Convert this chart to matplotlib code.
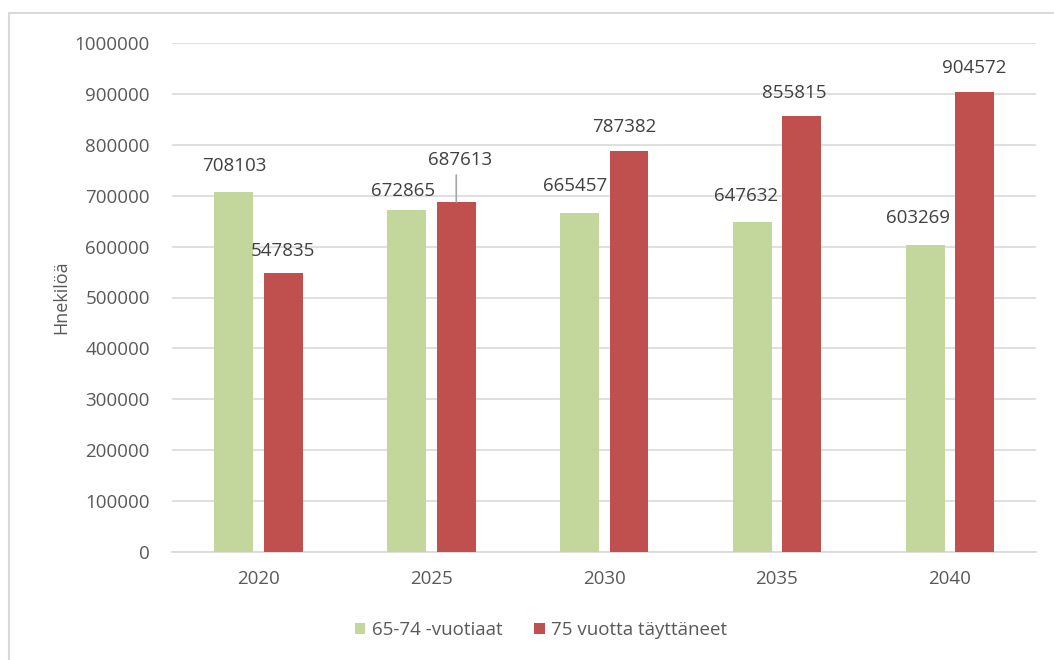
import matplotlib
matplotlib.use("Agg")
import matplotlib.pyplot as plt
import numpy as np
from matplotlib.patches import Rectangle

years = ["2020", "2025", "2030", "2035", "2040"]
age_65_74 = [708103, 672865, 665457, 647632, 603269]
age_75_plus = [547835, 687613, 787382, 855815, 904572]
series_names = ["65-74 -vuotiaat", "75 vuotta täyttäneet"]
y_label = "Hnekilöä"
y_ticks = list(range(0, 1000001, 100000))

# label offsets in pixels (dx, dy of label centre above bar top)
off_green = [(0, 25.5), (-3.5, 18.5), (-4.5, 27), (-6.5, 26), (-7, 27)]
off_red = [(-1, 22.5), (4, 42), (-5, 24), (-8, 23), (0, 23.6)]

plt.rcParams['font.family'] = ['Open Sans', 'DejaVu Sans']
txt = "#595959"
lbl = "#404040"
grid = "#d9d9d9"
green = "#c3d69b"
red = "#c0504d"

dpi = 100
fig = plt.figure(figsize=(10.54, 6.6), dpi=dpi)
W, H = 1054, 660
ax = fig.add_axes([172 / W, 1 - 552 / H, (1036 - 172) / W, (552 - 43) / H])

x = np.arange(len(years))
bw = 0.225
b1 = ax.bar(x - 0.142, age_65_74, bw, color=green, label=series_names[0], zorder=3)
b2 = ax.bar(x + 0.145, age_75_plus, bw, color=red, label=series_names[1], zorder=3)

ax.set_xlim(-0.5, len(years) - 0.5)
ax.set_ylim(0, 1000000)
ax.set_yticks(y_ticks)
ax.set_yticklabels([str(v) for v in y_ticks])
ax.set_xticks(x)
ax.set_xticklabels(years)
ax.yaxis.grid(True, color=grid, linewidth=1.2, zorder=0)
ax.set_axisbelow(True)
for s in ["top", "right", "left"]:
    ax.spines[s].set_visible(False)
ax.spines["bottom"].set_color(grid)
ax.spines["bottom"].set_linewidth(1.2)
ax.tick_params(axis="both", length=0, labelsize=13.5, colors=txt)
ax.tick_params(axis="y", pad=16)
ax.tick_params(axis="x", pad=13)
ax.set_ylabel(y_label, fontsize=13, color=txt)
ax.yaxis.set_label_coords(-(172 - 70) / (1036 - 172), 0.5)

px = 72 / dpi
for bars, vals, offs in ((b1, age_65_74, off_green), (b2, age_75_plus, off_red)):
    for rect, v, (dx, dy) in zip(bars, vals, offs):
        cx = rect.get_x() + rect.get_width() / 2
        ax.annotate(str(v), xy=(cx, v), xytext=(dx * px, dy * px),
                    textcoords="offset points", ha="center", va="center",
                    fontsize=13.5, color=lbl, zorder=5)

# leader line for second red label
r = b2[1]
cx = r.get_x() + r.get_width() / 2
ax.annotate("", xy=(cx, age_75_plus[1]), xytext=(0, 27 * px), textcoords="offset points",
            arrowprops=dict(arrowstyle="-", color="#a6a6a6", lw=1.2, shrinkA=0, shrinkB=0))

leg = fig.legend(handles=[b1, b2], labels=series_names, loc="center",
                 bbox_to_anchor=(541 / W, 1 - 630 / H), ncol=2, frameon=False,
                 fontsize=13.5, handlelength=0.55, handleheight=0.55, handletextpad=0.35,
                 columnspacing=1.7)
for t in leg.get_texts():
    t.set_color(txt)

fig.patches.append(Rectangle((9 / W, -0.1), 1.2, 1.1 - 13 / H, transform=fig.transFigure,
                             fill=False, edgecolor=grid, linewidth=1.5))

fig.savefig("out.png", dpi=dpi)
